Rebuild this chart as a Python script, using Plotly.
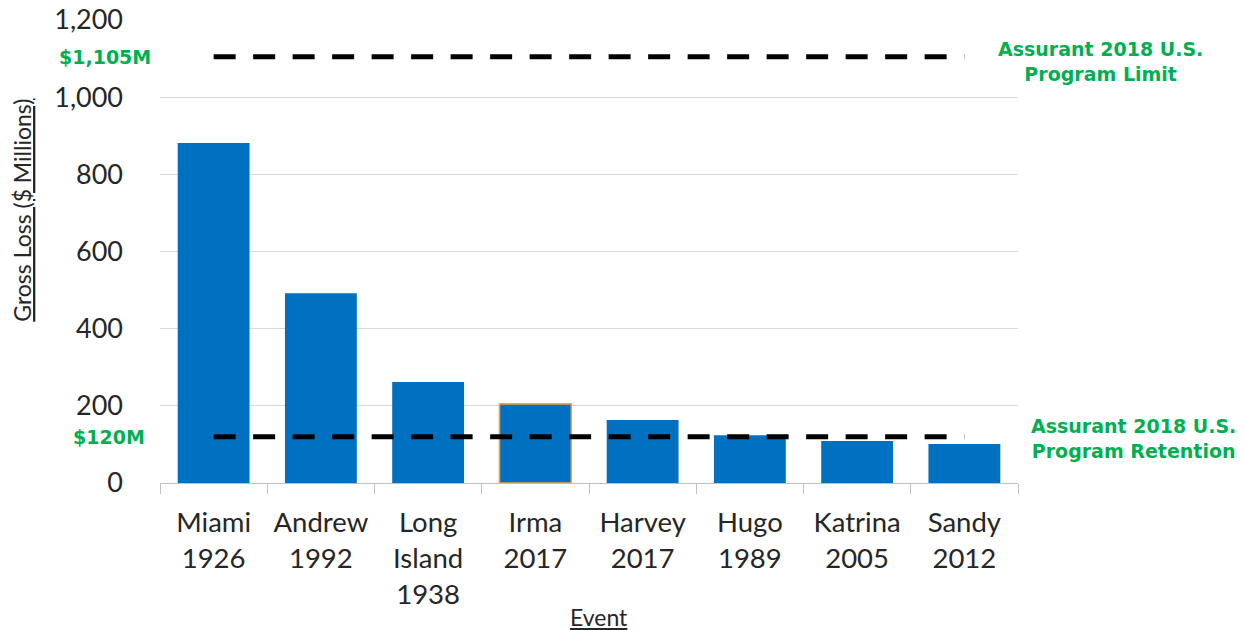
import plotly.graph_objects as go

# ---- data ----
events = ["Miami<br>1926", "Andrew<br>1992", "Long<br>Island<br>1938", "Irma<br>2017",
          "Harvey<br>2017", "Hugo<br>1989", "Katrina<br>2005", "Sandy<br>2012"]
gross_loss = [881, 492, 262, 205, 163, 124, 109, 101]
program_limit = 1105
program_retention = 120
y_ticks = [0, 200, 400, 600, 800, 1000, 1200]
limit_label = "Assurant 2018 U.S.<br>Program Limit"
retention_label = "Assurant 2018 U.S.<br>Program Retention"

BLUE = "#0070C0"
GREEN = "#00B050"
TXT = "#262626"
TICKFONT = "Lato"

outline_colors = ["#F2A33A" if e.startswith("Irma") else BLUE for e in events]
outline_widths = [1.6 if e.startswith("Irma") else 0 for e in events]

fig = go.Figure()
fig.add_trace(go.Bar(
    x=events, y=gross_loss,
    marker=dict(color=BLUE, line=dict(color=outline_colors, width=outline_widths)),
    showlegend=False, hoverinfo="x+y",
))
for val in (program_limit, program_retention):
    fig.add_trace(go.Scatter(
        x=[events[0], events[-1]], y=[val, val], mode="lines",
        line=dict(color="black", width=5, dash="22px,17.5px"),
        showlegend=False, hoverinfo="skip",
    ))

fig.update_layout(
    width=1246, height=630,
    margin=dict(l=160, r=228, t=20, b=147, autoexpand=False),
    paper_bgcolor="white", plot_bgcolor="white",
    bargap=0.33,
    font=dict(family=TICKFONT, color=TXT),
    xaxis=dict(
        type="category", tickfont=dict(size=27.5, family=TICKFONT, color=TXT),
        showline=True, linecolor="#BFBFBF", linewidth=1,
        ticks="outside", tickson="boundaries", ticklen=10, tickcolor="#BFBFBF",
        showgrid=False, automargin=False, ticklabelstandoff=15,
    ),
    yaxis=dict(
        range=[0, 1200], tickvals=y_ticks, tickformat=",d",
        tickfont=dict(size=27, family=TICKFONT, color=TXT),
        showgrid=True, gridcolor="#D9D9D9", gridwidth=1,
        zeroline=False, showline=False, ticks="", ticklabelstandoff=36,
        automargin=False,
    ),
)

annotations = [
    dict(text=f"<b>${program_limit:,}M</b>", xref="paper", yref="y", x=-0.008, y=program_limit,
         xanchor="right", yanchor="middle", showarrow=False,
         font=dict(size=19, family="DejaVu Sans", color=GREEN)),
    dict(text=f"<b>${program_retention:,}M</b>", xref="paper", yref="y", x=-0.015, y=program_retention,
         xanchor="right", yanchor="middle", showarrow=False,
         font=dict(size=19, family="DejaVu Sans", color=GREEN)),
    dict(text=f"<b>{limit_label}</b>", xref="paper", yref="y", x=1.0956, y=program_limit,
         xanchor="center", yanchor="middle", yshift=-5, showarrow=False, align="center",
         font=dict(size=19, family="DejaVu Sans", color=GREEN)),
    dict(text=f"<b>{retention_label}</b>", xref="paper", yref="y", x=1.135, y=program_retention,
         xanchor="center", yanchor="middle", yshift=-2, showarrow=False, align="center",
         font=dict(size=19, family="DejaVu Sans", color=GREEN)),
    dict(text="<u>Gross Loss ($ Millions)</u>", xref="paper", yref="paper", x=-0.161, y=0.59,
         textangle=-90, xanchor="center", yanchor="middle", showarrow=False,
         font=dict(size=23, family=TICKFONT, color=TXT)),
    dict(text="<u>Event</u>", xref="paper", yref="paper", x=0.512, y=-0.289,
         xanchor="center", yanchor="middle", showarrow=False,
         font=dict(size=23, family=TICKFONT, color=TXT)),
]
fig.update_layout(annotations=annotations)

fig.write_html("out.html")
